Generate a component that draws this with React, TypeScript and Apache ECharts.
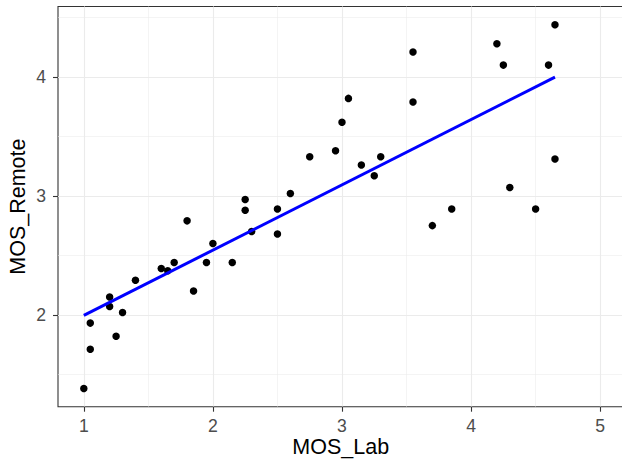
import React, { useEffect, useRef } from "react";
import * as echarts from "echarts";

const mosLab = [
  1.0, 1.05, 1.05, 1.2, 1.2, 1.25, 1.3, 1.4, 1.6, 1.65, 1.7, 1.8, 1.85, 1.95, 2.0,
  2.15, 2.25, 2.25, 2.3, 2.5, 2.5, 2.6, 2.75, 2.95, 3.0, 3.05, 3.15, 3.25, 3.3,
  3.55, 3.55, 3.7, 3.85, 4.2, 4.25, 4.3, 4.5, 4.6, 4.65, 4.65,
];
const mosRemote = [
  1.38, 1.71, 1.93, 2.15, 2.07, 1.82, 2.02, 2.29, 2.39, 2.37, 2.44, 2.79, 2.2, 2.44, 2.6,
  2.44, 2.97, 2.88, 2.7, 2.89, 2.68, 3.02, 3.33, 3.38, 3.62, 3.82, 3.26, 3.17, 3.33,
  4.21, 3.79, 2.75, 2.89, 4.28, 4.1, 3.07, 2.89, 4.1, 4.44, 3.31,
];
const xTicks = [1, 2, 3, 4, 5];
const yTicks = [2, 3, 4];
const xLimits = [0.8, 5.18];

const FONT = "'Liberation Sans', Arial, Helvetica, sans-serif";

function linearFit(xs: number[], ys: number[]) {
  const n = xs.length;
  const mx = xs.reduce((a, b) => a + b, 0) / n;
  const my = ys.reduce((a, b) => a + b, 0) / n;
  let sxy = 0;
  let sxx = 0;
  for (let i = 0; i < n; i++) {
    sxy += (xs[i] - mx) * (ys[i] - my);
    sxx += (xs[i] - mx) * (xs[i] - mx);
  }
  const slope = sxy / sxx;
  return { slope, intercept: my - slope * mx };
}

export default function App() {
  const ref = useRef<HTMLDivElement>(null);

  useEffect(() => {
    if (!ref.current) return;
    const chart = echarts.init(ref.current, undefined, { renderer: "svg" });

    const points = mosLab.map((x, i) => [x, mosRemote[i]]);
    const { slope, intercept } = linearFit(mosLab, mosRemote);
    const xMinData = Math.min(...mosLab);
    const xMaxData = Math.max(...mosLab);
    const fitLine = [
      [xMinData, intercept + slope * xMinData],
      [xMaxData, intercept + slope * xMaxData],
    ];
    const yMinData = Math.min(...mosRemote);
    const yMaxData = Math.max(...mosRemote);
    const yPad = (yMaxData - yMinData) * 0.05;

    chart.setOption({
      animation: false,
      backgroundColor: "#ffffff",
      grid: {
        left: 58,
        top: 6.5,
        width: 565.4,
        height: 400.2,
        show: true,
        borderColor: "#333333",
        borderWidth: 1.1,
        backgroundColor: "transparent",
        containLabel: false,
        outerBoundsMode: "none",
      },
      xAxis: {
        type: "value",
        min: xLimits[0],
        max: xLimits[1],
        splitNumber: 5,
        axisLine: { show: false },
        axisTick: {
          show: true,
          customValues: xTicks,
          length: 5,
          lineStyle: { color: "#333333", width: 1.1 },
        },
        axisLabel: {
          customValues: xTicks,
          margin: 10,
          color: "#4D4D4D",
          fontSize: 17.6,
          fontFamily: FONT,
        },
        splitLine: { show: true, lineStyle: { color: "#EBEBEB", width: 1.1 } },
        minorTick: { show: false, splitNumber: 2 },
        minorSplitLine: { show: true, lineStyle: { color: "#EBEBEB", width: 0.55 } },
        name: "MOS_Lab",
        nameLocation: "middle",
        nameMoveOverlap: false,
        nameGap: 40,
        nameTextStyle: {
          color: "#000000",
          fontSize: 21.5,
          fontFamily: FONT,
          verticalAlign: "middle",
          lineHeight: 24,
        },
      },
      yAxis: {
        type: "value",
        min: yMinData - yPad,
        max: yMaxData + yPad,
        splitNumber: 3,
        axisLine: { show: false },
        axisTick: {
          show: true,
          customValues: yTicks,
          length: 5,
          lineStyle: { color: "#333333", width: 1.1 },
        },
        axisLabel: {
          customValues: yTicks,
          margin: 12,
          color: "#4D4D4D",
          fontSize: 17.6,
          fontFamily: FONT,
        },
        splitLine: { show: true, lineStyle: { color: "#EBEBEB", width: 1.1 } },
        minorTick: { show: false, splitNumber: 2 },
        minorSplitLine: { show: true, lineStyle: { color: "#EBEBEB", width: 0.55 } },
        name: "MOS_Remote",
        nameLocation: "middle",
        nameMoveOverlap: false,
        nameRotate: 90,
        nameGap: 40,
        nameTextStyle: {
          color: "#000000",
          fontSize: 21.5,
          fontFamily: FONT,
          verticalAlign: "middle",
          lineHeight: 24,
        },
      },
      series: [
        {
          type: "scatter",
          data: points,
          symbol: "circle",
          symbolSize: 7.5,
          itemStyle: { color: "#000000", opacity: 1 },
          z: 2,
        },
        {
          type: "line",
          data: fitLine,
          showSymbol: false,
          symbol: "none",
          lineStyle: { color: "#0000FF", width: 3 },
          z: 3,
        },
      ],
    });

    return () => chart.dispose();
  }, []);

  return (
    <div
      style={{
        position: "fixed",
        left: 0,
        top: 0,
        width: 622,
        height: 461,
        overflow: "hidden",
        background: "#ffffff",
      }}
    >
      <div ref={ref} style={{ width: 640, height: 461 }} />
    </div>
  );
}
